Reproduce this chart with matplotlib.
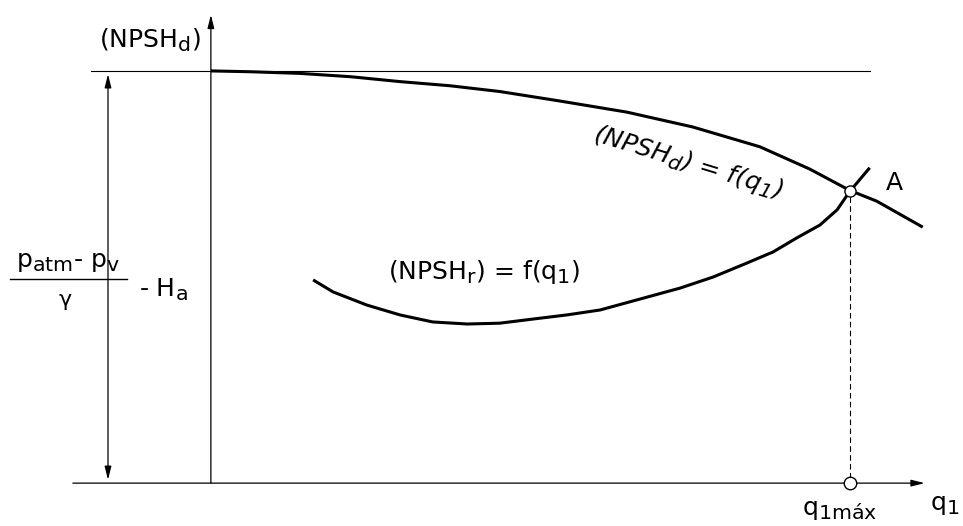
import matplotlib
matplotlib.use("Agg")
import matplotlib.pyplot as plt
import matplotlib._mathtext as _mt

plt.rcParams['font.family'] = ['DejaVu Sans']
plt.rcParams['mathtext.default'] = 'regular'
try:
    _mt.SHRINK_FACTOR = 0.82
except Exception:
    pass

# Data (q1 normalised so q1max = 1, heads normalised so available head at q1=0 is 1)
q_d = [0.0, 0.061, 0.139, 0.218, 0.296, 0.374, 0.452, 0.546, 0.651, 0.754, 0.859, 0.937,
       1.0, 1.042, 1.114]
npsh_d = [1.0, 0.998, 0.994, 0.986, 0.974, 0.964, 0.950, 0.927, 0.900, 0.864, 0.816, 0.762,
          0.710, 0.684, 0.621]

q_r = [0.160, 0.191, 0.244, 0.296, 0.347, 0.401, 0.452, 0.504, 0.557, 0.609, 0.682, 0.734,
       0.786, 0.839, 0.880, 0.917, 0.953, 0.980, 1.0, 1.031]
npsh_r = [0.493, 0.464, 0.432, 0.408, 0.391, 0.386, 0.388, 0.398, 0.408, 0.420, 0.451, 0.473,
          0.500, 0.534, 0.561, 0.595, 0.626, 0.663, 0.708, 0.765]

q1_max = 1.0
npsh_at_A = 0.709
head_level = 1.0

fig = plt.figure(figsize=(9.63, 5.26), dpi=100)
ax = fig.add_axes([0, 0, 1, 1])
ax.set_xlim(-0.330, 1.177)
ax.set_ylim(-0.104, 1.172)
ax.axis('off')

# axes
ax.annotate('', xy=(1.117, 0), xytext=(-0.216, 0),
            arrowprops=dict(arrowstyle='-|>,head_length=0.8,head_width=0.2', lw=0.9, color='black',
                            shrinkA=0, shrinkB=0))
ax.annotate('', xy=(0, 1.136), xytext=(0, 0),
            arrowprops=dict(arrowstyle='-|>,head_length=0.8,head_width=0.2', lw=0.9, color='black',
                            shrinkA=0, shrinkB=0))
# horizontal reference line
ax.plot([-0.188, 1.031], [head_level, head_level], color='black', lw=0.8)
# double arrow
ax.annotate('', xy=(-0.161, 0.008), xytext=(-0.161, 0.992),
            arrowprops=dict(arrowstyle='<|-|>,head_length=0.8,head_width=0.2', lw=0.9, color='black',
                            shrinkA=0, shrinkB=0))

# curves
ax.plot(q_d, npsh_d, color='black', lw=2.2, solid_capstyle='butt', solid_joinstyle='round')
ax.plot(q_r, npsh_r, color='black', lw=2.2, solid_capstyle='butt', solid_joinstyle='round')

# dashed vertical
ax.plot([q1_max, q1_max], [0.012, npsh_at_A - 0.012], color='black', lw=0.8, ls=(0, (5, 3)))
ax.plot([q1_max], [npsh_at_A], marker='o', ms=8, mfc='white', mec='black', mew=1.0, zorder=5)
ax.plot([q1_max], [0], marker='o', ms=9, mfc='white', mec='black', mew=1.0, zorder=5)

fs = 18
ax.text(-0.095, 1.075, '(NPSH$_d$)', fontsize=fs, ha='center', va='center')
ax.text(-0.224, 0.536, 'p$_{atm}$- p$_v$', fontsize=fs, ha='center', va='center')
ax.plot([-0.315, -0.131], [0.495, 0.495], color='black', lw=1.0)
ax.text(-0.228, 0.444, 'γ', fontsize=fs - 2, ha='center', va='center')
ax.text(-0.075, 0.468, '- H$_a$', fontsize=fs, ha='center', va='center')
ax.text(0.427, 0.512, '(NPSH$_r$) = f(q$_1$)', fontsize=fs, ha='center', va='center')
ax.text(0.746, 0.777, '(NPSH$_d$) = f(q$_1$)', fontsize=fs, ha='center', va='center',
        rotation=-17, style='italic', rotation_mode='anchor')
ax.text(1.070, 0.728, 'A', fontsize=fs, ha='center', va='center')
ax.text(0.984, -0.066, 'q$_{1 máx}$', fontsize=fs, ha='center', va='center')
ax.text(1.149, -0.053, 'q$_1$', fontsize=fs, ha='center', va='center')

fig.savefig('out.png', dpi=100, facecolor='white')
